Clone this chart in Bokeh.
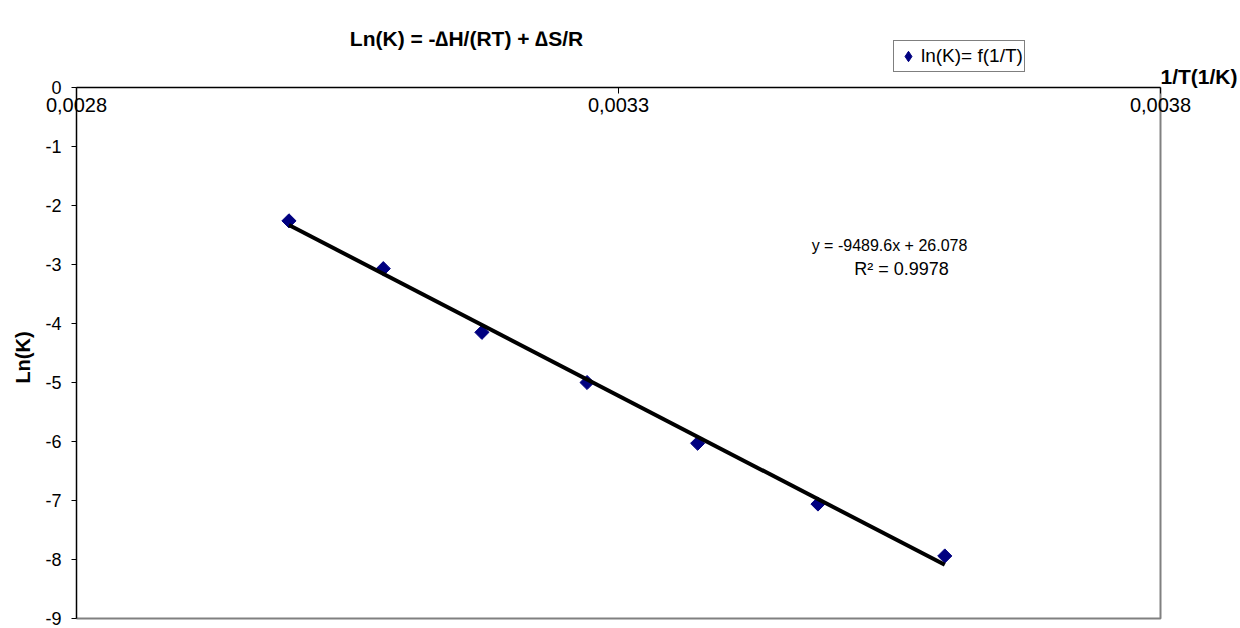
import numpy as np
from bokeh.plotting import figure
from bokeh.models import Label, Legend, LegendItem, FixedTicker, Range1d
from bokeh.embed import file_html
from bokeh.resources import INLINE

# ---- data ----
inv_T = [0.002996, 0.003083, 0.003174, 0.003271, 0.003373, 0.003484, 0.003601]
ln_K = [-2.26, -3.07, -4.15, -5.00, -6.03, -7.06, -7.94]
trend_x = [0.002996, 0.003601]
trend_y = [-2.33, -8.09]
x_ticks = [0.0028, 0.0033, 0.0038]
x_tick_labels = ["0,0028", "0,0033", "0,0038"]
y_ticks = [-9, -8, -7, -6, -5, -4, -3, -2, -1, 0]
y_tick_labels = ["-9", "-8", "-7", "-6", "-5", "-4", "-3", "-2", "-1", "0"]
title_text = "Ln(K) = -\u2206H/(RT) + \u2206S/R"
x_title = "1/T(1/K)"
y_title = "Ln(K)"
eq_line1 = "y = -9489.6x + 26.078"
eq_line2 = "R\u00b2 = 0.9978"
series_label = "ln(K)= f(1/T)"

FONT = "Liberation Sans"
NAVY = "#000080"
X0, X1 = 0.0028, 0.0038      # axis extent
Y0, Y1 = -9, 0
W, H = 1240, 628
# where the plot area sits on the canvas (pixels)
PL, PR, PT, PB = 76, 1160, 87, 618
SX = (X1 - X0) / (PR - PL)
SY = (Y1 - Y0) / (PB - PT)


def dx(px):
    return X0 + (px - PL) * SX


def dy(py):
    return Y1 - (py - PT) * SY


# the frame fills the whole canvas; axes are pinned at x=X0 and y=0
p = figure(width=W, height=H, x_range=Range1d(dx(0), dx(W)), y_range=Range1d(dy(H), dy(0)),
           output_backend="svg", toolbar_location=None, min_border=0,
           x_axis_location="below", y_axis_location="left")
p.min_border_left = 0
p.min_border_right = 0
p.min_border_top = 0
p.min_border_bottom = 0
p.background_fill_color = "white"
p.border_fill_color = "white"
p.outline_line_color = None
p.grid.visible = False

# plot-area border (right and bottom, grey)
p.line([X0, X1, X1], [Y0, Y0, Y1], line_color="#808080", line_width=2)

xa = p.xaxis[0]
xa.fixed_location = Y1
xa.bounds = (X0, X1)
xa.ticker = FixedTicker(ticks=x_ticks)
xa.major_label_overrides = {t: l for t, l in zip(x_ticks, x_tick_labels)}
xa.major_tick_in = 0
xa.major_tick_out = 6
xa.minor_tick_in = 0
xa.minor_tick_out = 0
xa.axis_line_color = "black"
xa.axis_line_width = 1.5
xa.major_tick_line_color = "black"
xa.major_label_text_font = FONT
xa.major_label_text_font_size = "20px"
xa.major_label_text_color = "black"
xa.major_label_standoff = 4

ya = p.yaxis[0]
ya.fixed_location = X0
ya.bounds = (Y0, Y1)
ya.ticker = FixedTicker(ticks=y_ticks)
ya.major_label_overrides = {t: l for t, l in zip(y_ticks, y_tick_labels)}
ya.major_tick_in = 0
ya.major_tick_out = 5
ya.minor_tick_in = 0
ya.minor_tick_out = 0
ya.axis_line_color = "black"
ya.axis_line_width = 1.5
ya.major_tick_line_color = "black"
ya.major_label_text_font = FONT
ya.major_label_text_font_size = "18px"
ya.major_label_text_color = "black"
ya.major_label_standoff = 10

sc = p.scatter(inv_T, ln_K, marker="square", angle=np.pi / 4, size=10,
               fill_color=NAVY, line_color=NAVY)
p.line(trend_x, trend_y, line_color="black", line_width=4)

# legend-only glyph (legend markers are never rotated, so use a diamond marker);
# its single point is NaN, so nothing is drawn in the plot area
legend_glyph = p.scatter(x=[float("nan")], y=[float("nan")], marker="diamond",
                         fill_color=NAVY, line_color=NAVY)

legend = Legend(items=[LegendItem(label=series_label, renderers=[legend_glyph])],
                location=(893, H - 72))
legend.border_line_color = "black"
legend.border_line_width = 1
legend.background_fill_color = "white"
legend.background_fill_alpha = 1
legend.padding = 1
legend.margin = 0
legend.spacing = 0
legend.glyph_width = 26
legend.glyph_height = 28
legend.label_standoff = 0
legend.label_height = 16
legend.label_text_font = FONT
legend.label_text_font_size = "19px"
legend.label_text_color = "black"
p.add_layout(legend, "center")

p.add_layout(Label(x=dx(466), y=dy(38), text=title_text, text_align="center",
                   text_baseline="middle", text_font=FONT, text_font_size="21px",
                   text_font_style="bold", text_color="black"))
p.add_layout(Label(x=dx(1237), y=dy(76), text=x_title, text_align="right",
                   text_baseline="middle", text_font=FONT, text_font_size="21px",
                   text_font_style="bold", text_color="black"))
p.add_layout(Label(x=dx(22), y=dy(357), text=y_title, text_align="center",
                   text_baseline="middle", angle=np.pi / 2, text_font=FONT,
                   text_font_size="20px", text_font_style="bold", text_color="black"))
p.add_layout(Label(x=dx(889), y=dy(245), text=eq_line1, text_align="center",
                   text_baseline="middle", text_font=FONT, text_font_size="16px",
                   text_color="black"))
p.add_layout(Label(x=dx(901), y=dy(268), text=eq_line2, text_align="center",
                   text_baseline="middle", text_font=FONT, text_font_size="18px",
                   text_color="black"))

open("out.html", "w").write(file_html(p, INLINE))
